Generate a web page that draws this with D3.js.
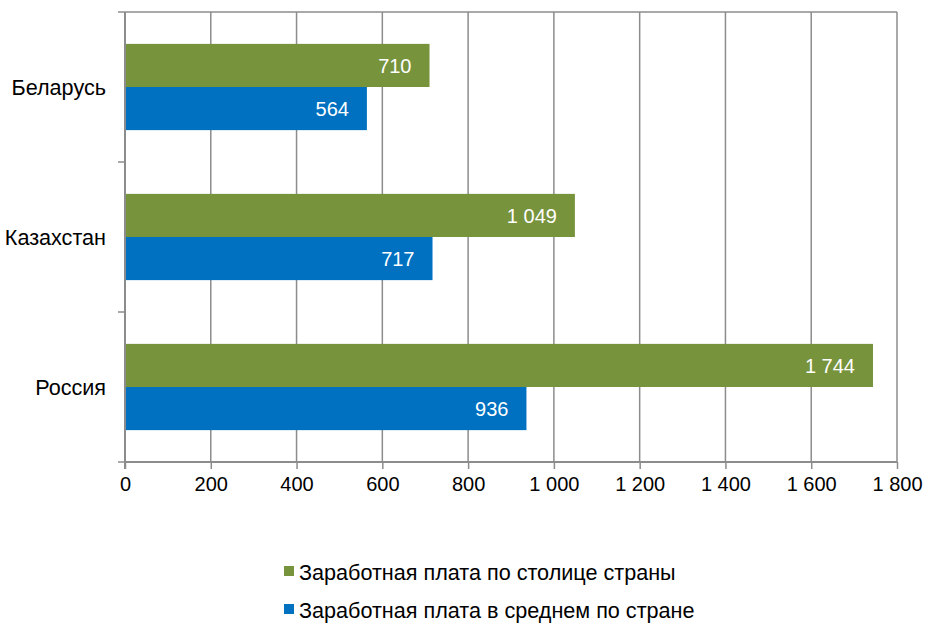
<!DOCTYPE html>
<html><head><meta charset="utf-8">
<script src="https://cdn.jsdelivr.net/npm/d3@7/dist/d3.min.js"></script>
<style>body{margin:0;background:#fff}svg{display:block;font-family:"Liberation Sans",Arial,sans-serif}</style>
</head><body><svg id="c" width="927" height="623"></svg>
<script>
const categories = ["Беларусь", "Казахстан", "Россия"];
const seriesNames = ["Заработная плата по столице страны", "Заработная плата в среднем по стране"];
const capitalValues = [710, 1049, 1744];
const averageValues = [564, 717, 936];
const xTicks = [0, 200, 400, 600, 800, 1000, 1200, 1400, 1600, 1800];
const colors = ["#77933C", "#0070C0"];

const svg = d3.select("#c");
const m = {l:125, r:897, t:12, b:462};
const x = d3.scaleLinear().domain([0,1800]).range([m.l, m.r]);
const y = d3.scaleBand().domain(categories).range([m.t, m.b]).paddingInner(0.425).paddingOuter(0.2125);
const fmt = v => d3.format(",")(v).replace(/,/g, " ");
const grid = "#8c8c8c";

// gridlines
svg.append("g").selectAll("line").data(xTicks.slice(1)).join("line")
  .attr("x1", d=>x(d)).attr("x2", d=>x(d)).attr("y1", m.t).attr("y2", m.b)
  .attr("stroke", grid).attr("stroke-width", 1.5);
svg.append("line").attr("x1", m.l).attr("x2", m.r).attr("y1", m.t).attr("y2", m.t)
  .attr("stroke", grid).attr("stroke-width", 1.5);

// bars
const data = categories.map((c,i)=>({c, vals:[capitalValues[i], averageValues[i]]}));
const sub = d3.scaleBand().domain([0,1]).range([0, y.bandwidth()]);
const g = svg.append("g");
data.forEach(d=>{
  d.vals.forEach((v,j)=>{
    g.append("rect").attr("x", x(0)).attr("y", y(d.c)+sub(j))
      .attr("width", x(v)-x(0)).attr("height", sub.bandwidth()).attr("fill", colors[j]);
    g.append("text").attr("x", x(v)-18).attr("y", y(d.c)+sub(j)+sub.bandwidth()/2)
      .attr("dy","0.36em").attr("text-anchor","end").attr("fill","#fff")
      .attr("font-size", 20).text(fmt(v));
  });
});

// x axis
const xa = svg.append("g").attr("transform", `translate(0,${m.b})`)
  .call(d3.axisBottom(x).tickValues(xTicks).tickFormat(fmt).tickSize(7).tickPadding(8));
xa.select(".domain").attr("stroke", grid).attr("stroke-width", 2).attr("d", `M${m.l},0H${m.r}`);
xa.selectAll(".tick line").attr("stroke", grid).attr("stroke-width", 1.5);
xa.selectAll("text").attr("font-size", 20).attr("fill","#000").attr("font-family","Liberation Sans, Arial, sans-serif");

// y axis
const yb = [m.t].concat(categories.map(c=>y(c)+y.bandwidth()+ (y.step()-y.bandwidth())/2));
const ya = svg.append("g");
ya.append("line").attr("x1", m.l).attr("x2", m.l).attr("y1", m.t).attr("y2", m.b+7)
  .attr("stroke", grid).attr("stroke-width", 2);
ya.selectAll("line.t").data(yb).join("line").attr("class","t")
  .attr("x1", m.l-7).attr("x2", m.l).attr("y1", d=>d).attr("y2", d=>d)
  .attr("stroke", grid).attr("stroke-width", 1.5);
ya.selectAll("text").data(categories).join("text")
  .attr("x", 106).attr("y", d=>y(d)+y.bandwidth()/2).attr("dy","0.36em")
  .attr("text-anchor","end").attr("font-size", 21.6).attr("fill","#000").text(d=>d);

// legend
const lg = svg.append("g");
seriesNames.forEach((s,i)=>{
  const ly = 572 + i*38;
  lg.append("rect").attr("x", 284).attr("y", ly-6).attr("width", 10).attr("height", 10).attr("fill", colors[i]);
  lg.append("text").attr("x", 299).attr("y", ly).attr("dy","0.36em").attr("font-size", 21.6).attr("fill","#000").text(s);
});
</script></body></html>
